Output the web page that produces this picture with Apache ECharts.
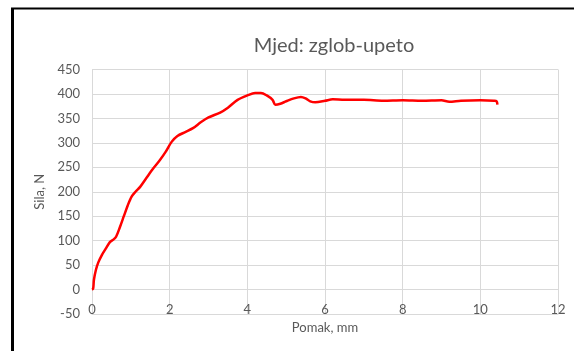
<!DOCTYPE html>
<html>
<head>
<meta charset="utf-8">
<script src="https://cdn.jsdelivr.net/npm/echarts@6/dist/echarts.min.js"></script>
<style>
html,body{margin:0;padding:0;background:#fff;}
#c{width:574px;height:351px;}
</style>
</head>
<body>
<div id="c"></div>
<script>
const titleText = 'Mjed: zglob-upeto';
const xName = 'Pomak, mm';
const yName = 'Sila, N';
const xTicks = [0, 2, 4, 6, 8, 10, 12];
const yTicks = [-50, 0, 50, 100, 150, 200, 250, 300, 350, 400, 450];
const pomak = [0,0.03,0.05,0.1,0.16,0.25,0.35,0.46,0.55,0.62,0.72,0.82,0.92,1.02,1.12,1.24,1.4,1.58,1.75,1.9,2.05,2.2,2.4,2.6,2.8,3.0,3.3,3.5,3.75,4.0,4.2,4.35,4.5,4.65,4.72,4.85,5.0,5.2,5.38,5.5,5.62,5.75,6.0,6.2,6.5,7.0,7.5,8.0,8.5,9.0,9.2,9.5,10.0,10.35,10.42,10.44];
const sila = [0,2,20,40,55,70,83,97,102,108,128,150,172,190,200,210,228,248,265,282,302,314,322,330,342,352,362,372,388,397,402,402,397,388,378,380,385,391,394,391,385,383,386,389,388,388,386,387,386,387,384,386,387,386,385,378];

const data = pomak.map((x, i) => [x, sila[i]]);
const chart = echarts.init(document.getElementById('c'), null, {renderer: 'canvas'});
const font = 'Lato, "Open Sans", sans-serif';
chart.setOption({
  animation: false,
  title: {
    text: titleText, left: 329, top: 31, textAlign: 'center',
    textStyle: {fontFamily: font, fontSize: 20, fontWeight: 'normal', color: '#595959'}
  },
  grid: {left: 92, right: 16, top: 69.5, bottom: 37, containLabel: false, outerBoundsMode: 'none'},
  xAxis: {
    type: 'value', min: xTicks[0], max: xTicks[xTicks.length - 1], interval: 2,
    name: xName, nameLocation: 'middle', nameGap: 6,
    nameTextStyle: {fontFamily: font, fontSize: 13, color: '#595959', verticalAlign: 'top'},
    axisLine: {show: true, onZero: false, lineStyle: {color: '#d9d9d9', width: 1}},
    axisTick: {show: false},
    axisLabel: {fontFamily: font, fontSize: 13, color: '#595959', inside: true, margin: -2},
    splitLine: {show: true, lineStyle: {color: '#d9d9d9', width: 1}}
  },
  yAxis: {
    type: 'value', min: yTicks[0], max: yTicks[yTicks.length - 1], interval: 50,
    name: yName, nameLocation: 'middle', nameGap: 38, nameRotate: 90,
    nameTextStyle: {fontFamily: font, fontSize: 13, color: '#595959'},
    axisLine: {show: true, lineStyle: {color: '#d9d9d9', width: 1}},
    axisTick: {show: false},
    axisLabel: {fontFamily: font, fontSize: 13, color: '#595959', margin: 12},
    splitLine: {show: true, lineStyle: {color: '#d9d9d9', width: 1}}
  },
  series: [{
    type: 'line', data: data, smooth: 0.3, showSymbol: false,
    lineStyle: {color: '#ff0000', width: 2.5}
  }],
  graphic: [
    {type: 'line', shape: {x1: 12.5, y1: 8, x2: 12.5, y2: 351}, style: {stroke: '#000', lineWidth: 3}},
    {type: 'line', shape: {x1: 11, y1: 8.5, x2: 574, y2: 8.5}, style: {stroke: '#000', lineWidth: 2}}
  ]
});
</script>
</body>
</html>
